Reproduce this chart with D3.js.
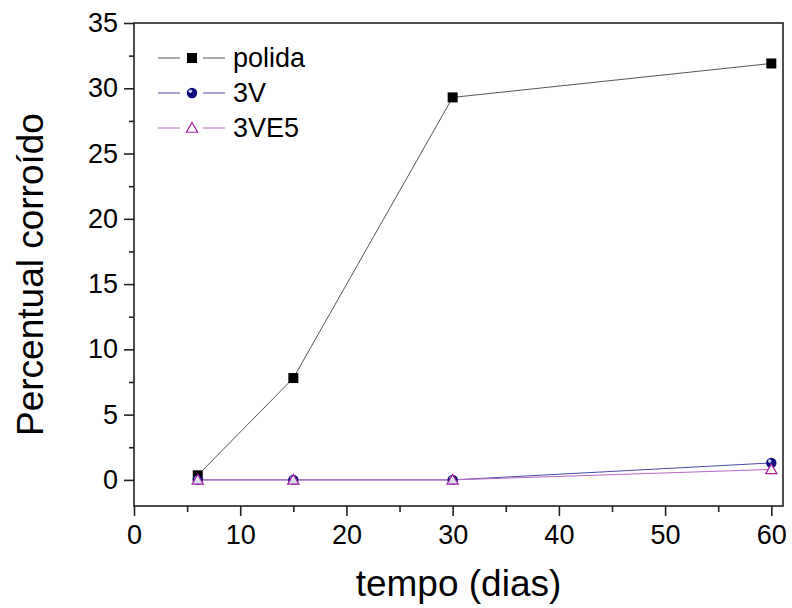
<!DOCTYPE html>
<html>
<head>
<meta charset="utf-8">
<script src="https://cdn.jsdelivr.net/npm/d3@7"></script>
<style>
  body { margin: 0; background: #fff; }
  text { font-family: "Liberation Sans", Arial, sans-serif; fill: #000; }
</style>
</head>
<body>
<div id="chart"></div>
<script>
const dias = [6, 15, 30, 60];
const polida = [0.35, 7.8, 29.3, 31.9];
const v3 = [0, 0, 0, 1.3];
const v3e5 = [0, 0, 0, 0.8];
const xTicks = [0, 10, 20, 30, 40, 50, 60];
const yTicks = [0, 5, 10, 15, 20, 25, 30, 35];

const width = 792, height = 608;
const margin = {left: 134, right: 9, top: 23, bottom: 102};

const svg = d3.select('#chart').append('svg')
    .attr('width', width)
    .attr('height', height);

const x = d3.scaleLinear().domain([0, 61.1]).range([margin.left, width - margin.right]);
const y = d3.scaleLinear().domain([-2, 35]).range([height - margin.bottom, margin.top]);

// frame
svg.append('rect')
    .attr('x', x(0)).attr('y', y(35))
    .attr('width', x(61.1) - x(0)).attr('height', y(-2) - y(35))
    .attr('fill', 'none').attr('stroke', '#222').attr('stroke-width', 1.6);

// minor ticks
svg.append('g').attr('transform', `translate(0,${y(-2)})`)
    .call(d3.axisBottom(x).tickValues(d3.range(5, 61, 10)).tickSize(6).tickFormat(''))
    .call(g => g.select('.domain').remove())
    .call(g => g.selectAll('line').attr('stroke-width', 1.6).attr('stroke', '#222'));
svg.append('g').attr('transform', `translate(${x(0)},0)`)
    .call(d3.axisLeft(y).tickValues(d3.range(2.5, 35, 5)).tickSize(5).tickFormat(''))
    .call(g => g.select('.domain').remove())
    .call(g => g.selectAll('line').attr('stroke-width', 1.6).attr('stroke', '#222'));

// major ticks
svg.append('g').attr('transform', `translate(0,${y(-2)})`)
    .call(d3.axisBottom(x).tickValues(xTicks).tickSize(10).tickPadding(9))
    .call(g => g.select('.domain').remove())
    .call(g => g.selectAll('line').attr('stroke-width', 1.6).attr('stroke', '#222'))
    .call(g => g.selectAll('text').attr('font-size', 27).style('font-family', '"Liberation Sans", Arial, sans-serif').attr('fill', '#000'));
svg.append('g').attr('transform', `translate(${x(0)},0)`)
    .call(d3.axisLeft(y).tickValues(yTicks).tickSize(10).tickPadding(6))
    .call(g => g.select('.domain').remove())
    .call(g => g.selectAll('line').attr('stroke-width', 1.6).attr('stroke', '#222'))
    .call(g => g.selectAll('text').attr('font-size', 27).style('font-family', '"Liberation Sans", Arial, sans-serif').attr('fill', '#000'));

// axis titles
svg.append('text')
    .attr('x', (x(0) + x(61.1)) / 2).attr('y', 596)
    .attr('text-anchor', 'middle').attr('font-size', 37)
    .text('tempo (dias)');
svg.append('text')
    .attr('transform', `translate(43,${(y(-2) + y(35)) / 2 + 10}) rotate(-90)`)
    .attr('text-anchor', 'middle').attr('font-size', 37)
    .text('Percentual corroído');

const series = [
  {name: 'polida', values: polida, line: '#555', marker: 'square'},
  {name: '3V', values: v3, line: '#4a4aa8', marker: 'circle'},
  {name: '3VE5', values: v3e5, line: '#b868c0', marker: 'triangle'}
];

const line = d3.line().x((d, i) => x(dias[i])).y(d => y(d));

function drawMarker(g, type, cx, cy) {
  if (type === 'square') {
    g.append('rect').attr('x', cx - 5).attr('y', cy - 5).attr('width', 10).attr('height', 10)
        .attr('fill', '#000');
  } else if (type === 'circle') {
    g.append('circle').attr('cx', cx).attr('cy', cy).attr('r', 5.2).attr('fill', '#0a0a7a');
    g.append('circle').attr('cx', cx - 1.6).attr('cy', cy - 1.8).attr('r', 1.8).attr('fill', '#c8c8e8');
  } else {
    g.append('path')
        .attr('d', d3.symbol(d3.symbolTriangle, 55)())
        .attr('transform', `translate(${cx},${cy + 1})`)
        .attr('fill', '#fff').attr('fill-opacity', 0.85)
        .attr('stroke', '#a020a0').attr('stroke-width', 1.2);
  }
}

series.forEach(s => {
  svg.append('path').datum(s.values)
      .attr('d', line)
      .attr('fill', 'none').attr('stroke', s.line).attr('stroke-width', 1);
});
series.forEach(s => {
  const g = svg.append('g');
  s.values.forEach((v, i) => drawMarker(g, s.marker, x(dias[i]), y(v)));
});

// legend
const legendY = [58, 93, 128];
series.forEach((s, i) => {
  const g = svg.append('g');
  const ly = legendY[i];
  g.append('line').attr('x1', 158).attr('x2', 180).attr('y1', ly).attr('y2', ly)
      .attr('stroke', s.line).attr('stroke-width', 1);
  g.append('line').attr('x1', 203).attr('x2', 225).attr('y1', ly).attr('y2', ly)
      .attr('stroke', s.line).attr('stroke-width', 1);
  drawMarker(g, s.marker, 192, ly);
  g.append('text').attr('x', 233).attr('y', ly + 9).attr('font-size', 27).text(s.name);
});
</script>
</body>
</html>
